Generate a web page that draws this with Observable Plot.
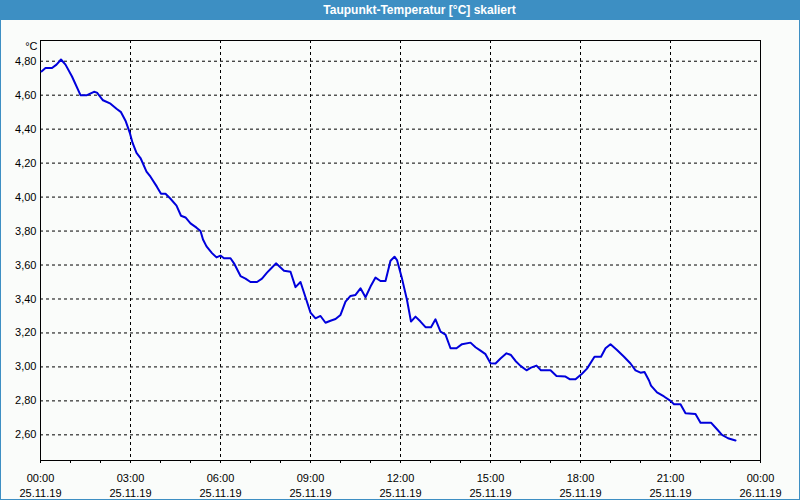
<!DOCTYPE html>
<html>
<head>
<meta charset="utf-8">
<script src="https://cdn.jsdelivr.net/npm/d3@7"></script>
<script src="https://cdn.jsdelivr.net/npm/@observablehq/plot@0.6"></script>
<style>
  body { margin: 0; background: #ffffff; }
  #win { position: relative; width: 800px; height: 500px; box-sizing: border-box;
         background: #fafcfa; border: 1px solid #3d8fc3; border-top: none; overflow: hidden;
         font-family: "Liberation Sans", Arial, sans-serif; }
  #title { height: 20px; background: #3d8fc3; color: #ffffff; font-weight: bold; font-size: 12px;
           line-height: 20px; text-align: center; padding-left: 39px; white-space: nowrap; }
  #chart svg { display: block; }
</style>
</head>
<body>
<div id="win">
  <div id="title">Taupunkt-Temperatur [°C] skaliert</div>
  <div id="chart"></div>
</div>
<script>
// Time of reading (25.11.19) and dew-point temperature in °C
const times = ["00:02","00:10","00:23","00:32","00:41","00:50","01:03","01:20","01:33","01:47",
  "01:53","02:05","02:20","02:32","02:41","02:50","02:59","03:04","03:12","03:20",
  "03:32","03:40","03:53","04:01","04:10","04:20","04:32","04:41","04:50","05:00",
  "05:12","05:20","05:25","05:32","05:43","05:52","06:00","06:07","06:20","06:27",
  "06:40","06:50","07:00","07:13","07:23","07:33","07:43","07:51","08:07","08:20",
  "08:30","08:40","08:50","09:00","09:10","09:20","09:30","09:40","09:50","10:00",
  "10:10","10:20","10:30","10:40","10:50","11:00","11:10","11:20","11:30","11:40",
  "11:48","11:53","12:03","12:13","12:21","12:30","12:40","12:50","13:01","13:10",
  "13:20","13:30","13:40","13:52","14:03","14:20","14:30","14:40","14:50","15:00",
  "15:10","15:20","15:32","15:41","15:50","16:00","16:12","16:21","16:32","16:41",
  "17:00","17:12","17:30","17:39","17:50","18:03","18:13","18:28","18:41","18:50",
  "19:00","19:13","19:27","19:40","19:50","20:00","20:08","20:17","20:21","20:33",
  "20:47","21:00","21:07","21:20","21:30","21:50","22:00","22:21","22:33","22:43",
  "22:55","23:10"];
const values = [4.74,4.76,4.76,4.78,4.81,4.78,4.71,4.60,4.60,4.62,
  4.615,4.57,4.55,4.52,4.50,4.45,4.375,4.32,4.26,4.23,
  4.15,4.12,4.06,4.02,4.02,3.99,3.95,3.89,3.88,3.845,
  3.82,3.80,3.75,3.71,3.67,3.645,3.655,3.64,3.64,3.61,
  3.535,3.52,3.50,3.50,3.52,3.555,3.585,3.61,3.566,3.56,
  3.47,3.50,3.41,3.32,3.286,3.30,3.26,3.272,3.282,3.306,
  3.384,3.418,3.424,3.463,3.41,3.473,3.526,3.506,3.506,3.625,
  3.649,3.629,3.52,3.394,3.267,3.296,3.267,3.234,3.234,3.28,
  3.208,3.19,3.11,3.11,3.134,3.143,3.116,3.096,3.075,3.022,
  3.02,3.05,3.08,3.07,3.035,3.006,2.98,2.996,3.008,2.98,
  2.98,2.947,2.943,2.927,2.927,2.96,2.99,3.06,3.06,3.11,
  3.134,3.10,3.06,3.02,2.98,2.966,2.97,2.92,2.89,2.85,
  2.826,2.80,2.78,2.78,2.727,2.723,2.672,2.672,2.633,2.60,
  2.58,2.567];
const yTicks = [2.6, 2.8, 3.0, 3.2, 3.4, 3.6, 3.8, 4.0, 4.2, 4.4, 4.6, 4.8];
const dayStart = "2019-11-25 00:00";
const dayEnd = "2019-11-26 00:00";
const unitLabel = "°C";

const parse = d3.utcParse("%Y-%m-%d %H:%M");
const x0 = parse(dayStart), x1 = parse(dayEnd);
const data = times.map((t, i) => ({ t: parse("2019-11-25 " + t), v: values[i] }));
const hourTicks = d3.utcHour.range(x0, d3.utcHour.offset(x1, 1));
const labelTicks = d3.utcHour.every(3).range(x0, d3.utcHour.offset(x1, 1));
const gridTicks = labelTicks.slice(1, -1);
const fmtTime = d3.utcFormat("%H:%M"), fmtDate = d3.utcFormat("%d.%m.%y");

const chart = Plot.plot({
  width: 798,
  height: 479,
  marginLeft: 39,
  marginRight: 39,
  marginTop: 20,
  marginBottom: 39,
  style: { background: "transparent", color: "black", fontFamily: "'Liberation Sans', Arial, sans-serif", fontSize: "11px", overflow: "visible" },
  x: { type: "utc", domain: [x0, x1] },
  y: { domain: [2.449, 4.922] },
  marks: [
    Plot.gridY(yTicks, { stroke: "black", strokeOpacity: 1, strokeDasharray: "3,3" }),
    Plot.gridX(gridTicks, { stroke: "black", strokeOpacity: 1, strokeDasharray: "3,3" }),
    Plot.frame({ stroke: "black" }),
    Plot.axisY(yTicks, { tickSize: 0, tickPadding: 4, tickFormat: d => d.toFixed(2).replace(".", ","), label: null }),
    Plot.axisX(hourTicks, { tickSize: 3, tickFormat: () => "", label: null }),
    Plot.axisX(labelTicks, { tickSize: 0, tickPadding: 11, lineHeight: 1.364,
      tickFormat: d => fmtTime(d) + "\n" + fmtDate(d), label: null }),
    Plot.text([unitLabel], { frameAnchor: "top-left", textAnchor: "end", dx: -3, dy: 2 }),
    Plot.line(data, { x: "t", y: "v", stroke: "#0000dc", strokeWidth: 2 })
  ]
});
document.getElementById("chart").appendChild(chart);
</script>
</body>
</html>
